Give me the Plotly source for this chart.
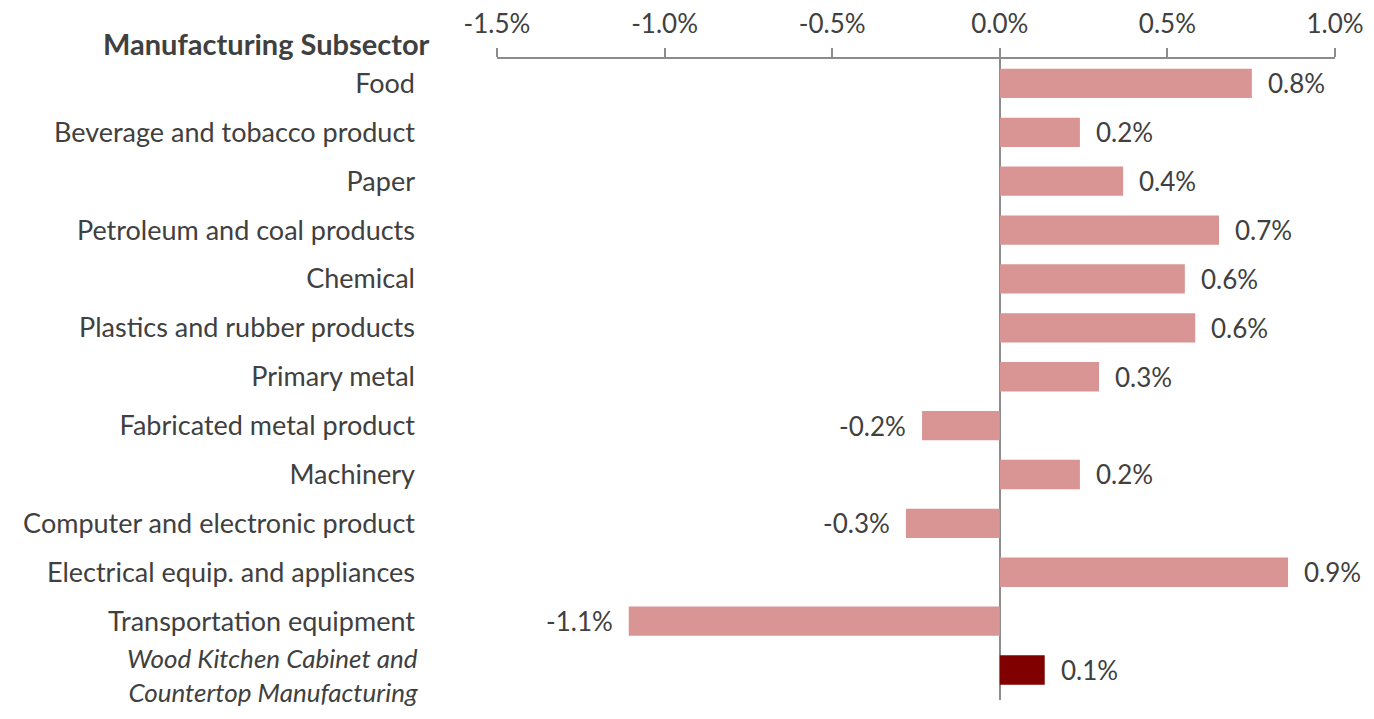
import plotly.graph_objects as go

categories = [
    "Food",
    "Beverage and tobacco product",
    "Paper",
    "Petroleum and coal products",
    "Chemical",
    "Plastics and rubber products",
    "Primary metal",
    "Fabricated metal product",
    "Machinery",
    "Computer and electronic product",
    "Electrical equip. and appliances",
    "Transportation equipment",
    "Wood Kitchen Cabinet and<br>Countertop Manufacturing",
]
values = [0.00752, 0.00239, 0.00368, 0.00654, 0.00552, 0.00583, 0.00296,
          -0.00232, 0.00239, -0.00280, 0.00860, -0.01107, 0.00134]
labels = ["0.8%", "0.2%", "0.4%", "0.7%", "0.6%", "0.6%", "0.3%",
          "-0.2%", "0.2%", "-0.3%", "0.9%", "-1.1%", "0.1%"]
tick_vals = [-0.015, -0.010, -0.005, 0.0, 0.005, 0.010]
tick_text = ["-1.5%", "-1.0%", "-0.5%", "0.0%", "0.5%", "1.0%"]

LIGHT = "#D99594"
DARK = "#800000"
TXT = "#404040"
FONT = "Lato, 'Open Sans', sans-serif"

colors = [LIGHT] * (len(categories) - 1) + [DARK]

fig = go.Figure()
fig.add_trace(go.Bar(
    x=values, y=categories, orientation="h",
    marker=dict(color=colors, line=dict(width=0)),
    width=0.6, hoverinfo="skip",
))

for v, c, t in zip(values, categories, labels):
    fig.add_annotation(
        x=v, y=c, text=t, showarrow=False,
        xanchor="left" if v >= 0 else "right",
        xshift=14 if v >= 0 else -14,
        font=dict(family=FONT, size=26, color=TXT),
    )

# highlighted (italic, two-line) category label
fig.add_annotation(
    xref="paper", x=-0.0915, y=categories[-1], yshift=-5,
    xanchor="right", yanchor="middle", align="right",
    text="<i>" + categories[-1] + "</i>", showarrow=False,
    font=dict(family=FONT, size=26, color=TXT),
)

fig.add_annotation(
    xref="paper", yref="paper", x=-0.077, y=1.0, yshift=-4,
    xanchor="right", yanchor="bottom",
    text="<b>Manufacturing Subsector</b>", showarrow=False,
    font=dict(family=FONT, size=29, color=TXT),
)

# page body has an 8px margin, so the figure is sized to fit inside it
fig.update_layout(
    width=1358, height=703,
    margin=dict(l=489, r=31, t=51, b=11),
    paper_bgcolor="white", plot_bgcolor="white",
    showlegend=False,
    font=dict(family=FONT, color=TXT),
)
fig.update_xaxes(
    side="top", range=[-0.015, 0.010], automargin=False,
    tickvals=tick_vals, ticktext=tick_text,
    showgrid=False, zeroline=True, zerolinecolor="#8C8C8C", zerolinewidth=2,
    showline=True, linecolor="#8C8C8C", linewidth=2,
    ticks="outside", ticklen=9, tickwidth=2, tickcolor="#8C8C8C",
    tickfont=dict(family=FONT, size=26, color=TXT),
    ticklabelstandoff=5,
)
fig.update_yaxes(
    autorange="reversed", automargin=False,
    tickvals=categories, ticktext=categories[:-1] + [""],
    showgrid=False, showline=False, zeroline=False,
    ticks="", tickfont=dict(family=FONT, size=27, color=TXT),
    ticklabelstandoff=81,
)

fig.write_html("out.html")
